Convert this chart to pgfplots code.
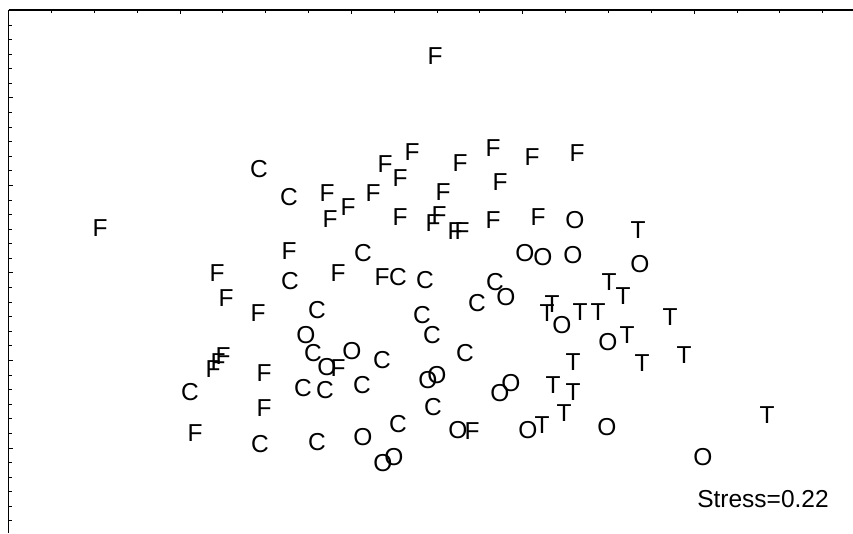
\documentclass[border=0pt]{standalone}
\usepackage{fontspec}
\setmainfont{Liberation Sans}
\usepackage{pgfplots}
\pgfplotsset{compat=1.18}
\usepackage{pgfplotstable}

% MDS configuration, one table per group (x, y in plot units)
\pgfplotstableread{
x y
100 305
435 477
412 381
385 369
400 355
373 340
327 340
348 326
330 314
400 316
289 282
493 385
460 370
532 376
577 380
443 341
500 351
439 318
433 310
455 302
462 302
493 313
538 316
217 260
338 260
382 256
226 235
258 220
338 165
223 177
218 171
213 164
264 160
264 125
195 100
472 102
}\groupF

\pgfplotstableread{
x y
259 364
289 336
363 280
290 252
398 256
425 253
317 223
422 218
432 198
313 180
382 173
190 141
303 145
325 143
362 148
260 89
317 91
398 109
433 126
465 180
495 251
477 230
}\groupC

\pgfplotstableread{
x y
575 313
525 280
543 276
573 278
640 269
306 198
327 166
352 182
363 96
383 70
394 76
428 153
437 158
506 236
500 140
511 150
458 103
528 103
607 106
703 76
562 208
608 191
}\groupO

\pgfplotstableread{
x y
638 303
609 251
623 237
552 229
547 220
580 221
598 221
670 216
627 198
642 170
684 178
573 171
553 148
573 141
542 108
564 120
767 118
}\groupT

\begin{document}
\begin{tikzpicture}
\begin{axis}[
  at={(8.6pt,0pt)}, anchor=south west,
  scale only axis, width=844.4pt, height=523pt,
  xmin=8.6, xmax=853, ymin=0, ymax=523,
  axis x line*=top, axis y line*=left,
  axis line style={line width=1.5pt, black},
  tick align=inside,
  xtick={8.6,180,351.4,522.8,694.2},
  minor xtick={8.6,51.45,...,853},
  ytick={-2.5,85,172.5,260,347.5,435,522.5},
  minor ytick={-2.5,12.0833,...,523},
  xticklabels={}, yticklabels={},
  major tick length=4.5pt, minor tick length=3pt,
  every tick/.style={black, line width=1pt},
  clip=false,
  every node near coord/.append style={text=black, inner sep=0pt,
    font=\fontsize{24.5}{24.5}\selectfont},
  nodes near coords align=center,
]
\addplot[only marks, mark=none, nodes near coords={F}] table {\groupF};
\addplot[only marks, mark=none, nodes near coords={C}] table {\groupC};
\addplot[only marks, mark=none, nodes near coords={O}] table {\groupO};
\addplot[only marks, mark=none, nodes near coords={T}] table {\groupT};
\node[font=\fontsize{24.5}{24.5}\selectfont, inner sep=0pt]
  at (axis cs:763,34) {Stress=0.22};
\end{axis}
\pgfresetboundingbox
\useasboundingbox (0,0) rectangle (853pt,533pt);
\end{tikzpicture}
\end{document}
